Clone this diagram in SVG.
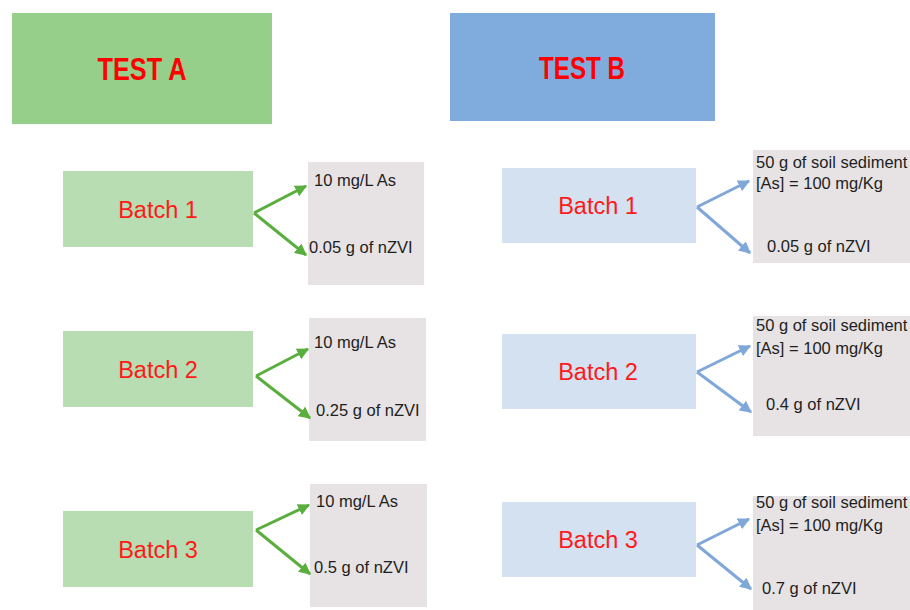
<svg xmlns="http://www.w3.org/2000/svg" width="910" height="610" viewBox="0 0 910 610">
  <defs>
    <marker id="headA" viewBox="0 0 10 10" refX="9" refY="5" markerWidth="4" markerHeight="4" orient="auto" markerUnits="strokeWidth">
      <path d="M0,0 L10,5 L0,10 z" fill="#5aae3e"/>
    </marker>
    <marker id="headB" viewBox="0 0 10 10" refX="9" refY="5" markerWidth="4" markerHeight="4" orient="auto" markerUnits="strokeWidth">
      <path d="M0,0 L10,5 L0,10 z" fill="#7fa7da"/>
    </marker>
    <style>
      .title { font-family: "Liberation Sans", Arial, sans-serif; font-weight: bold; font-size: 32px; fill: #ff0000; text-anchor: middle; }
      .batch { font-family: "Liberation Sans", Arial, sans-serif; font-size: 23.5px; fill: #ff1a1a; text-anchor: middle; }
      .note { font-family: "Liberation Sans", Arial, sans-serif; font-size: 16.5px; fill: #1e1e1e; }
      .batchA { fill: #b8ddb2; }
      .batchB { fill: #d3e1f1; }
      .panel { fill: #e7e3e4; }
      .linkA { stroke: #5aae3e; stroke-width: 3; fill: none; marker-end: url(#headA); }
      .linkB { stroke: #7fa7da; stroke-width: 3; fill: none; marker-end: url(#headB); }
    </style>
  </defs>

  <rect width="910" height="610" fill="#ffffff"/>

  <!-- headers -->
  <g id="testA">
    <rect x="12" y="13" width="260" height="111" fill="#96cf8a"/>
    <text class="title" x="142" y="80" textLength="89" lengthAdjust="spacingAndGlyphs">TEST A</text>
  </g>
  <g id="testB">
    <rect x="450" y="13" width="265" height="108" fill="#80abdd"/>
    <text class="title" x="582" y="79" textLength="86" lengthAdjust="spacingAndGlyphs">TEST B</text>
  </g>

  <!-- test A batches -->
  <g id="a-batch1">
    <rect class="batchA" x="63" y="171" width="190" height="76"/>
    <text class="batch" x="158" y="218">Batch 1</text>
  </g>
  <g id="a-batch2">
    <rect class="batchA" x="63" y="331" width="190" height="76"/>
    <text class="batch" x="158" y="378">Batch 2</text>
  </g>
  <g id="a-batch3">
    <rect class="batchA" x="63" y="511" width="190" height="76"/>
    <text class="batch" x="158" y="558">Batch 3</text>
  </g>

  <!-- test A contents -->
  <g id="a-mix1">
    <rect class="panel" x="308" y="162" width="116" height="123"/>
    <text class="note" x="314" y="186">10 mg/L As</text>
    <text class="note" x="309" y="253">0.05 g of nZVI</text>
  </g>
  <g id="a-mix2">
    <rect class="panel" x="309" y="318" width="117" height="123"/>
    <text class="note" x="314" y="348">10 mg/L As</text>
    <text class="note" x="316" y="416">0.25 g of nZVI</text>
  </g>
  <g id="a-mix3">
    <rect class="panel" x="310" y="484" width="117" height="123"/>
    <text class="note" x="316" y="507">10 mg/L As</text>
    <text class="note" x="314" y="573">0.5 g of nZVI</text>
  </g>

  <!-- test B batches -->
  <g id="b-batch1">
    <rect class="batchB" x="502" y="168" width="194" height="75"/>
    <text class="batch" x="598" y="214">Batch 1</text>
  </g>
  <g id="b-batch2">
    <rect class="batchB" x="502" y="334" width="194" height="75"/>
    <text class="batch" x="598" y="380">Batch 2</text>
  </g>
  <g id="b-batch3">
    <rect class="batchB" x="502" y="502" width="194" height="75"/>
    <text class="batch" x="598" y="548">Batch 3</text>
  </g>

  <!-- test B contents -->
  <g id="b-mix1">
    <rect class="panel" x="753" y="150" width="157" height="113"/>
    <text class="note" x="756" y="168">50 g of soil sediment</text>
    <text class="note" x="756" y="189">[As] = 100 mg/Kg</text>
    <text class="note" x="767" y="252">0.05 g of nZVI</text>
  </g>
  <g id="b-mix2">
    <rect class="panel" x="753" y="316" width="157" height="120"/>
    <text class="note" x="756" y="331">50 g of soil sediment</text>
    <text class="note" x="756" y="354">[As] = 100 mg/Kg</text>
    <text class="note" x="766" y="410">0.4 g of nZVI</text>
  </g>
  <g id="b-mix3">
    <rect class="panel" x="753" y="496" width="157" height="114"/>
    <text class="note" x="756" y="508">50 g of soil sediment</text>
    <text class="note" x="756" y="531">[As] = 100 mg/Kg</text>
    <text class="note" x="762" y="594">0.7 g of nZVI</text>
  </g>

  <!-- connectors -->
  <g id="connectors">
    <path class="linkA" d="M254,213 L306,186"/>
    <path class="linkA" d="M254,213 L306,255"/>
    <path class="linkA" d="M256,376 L308,349"/>
    <path class="linkA" d="M256,376 L310,418"/>
    <path class="linkA" d="M256,530 L309,505"/>
    <path class="linkA" d="M256,530 L310,574"/>
    <path class="linkB" d="M697,207 L749,181"/>
    <path class="linkB" d="M697,207 L750,253"/>
    <path class="linkB" d="M697,372 L750,346"/>
    <path class="linkB" d="M697,372 L751,412"/>
    <path class="linkB" d="M697,545 L749,519"/>
    <path class="linkB" d="M697,545 L751,589"/>
  </g>
</svg>
